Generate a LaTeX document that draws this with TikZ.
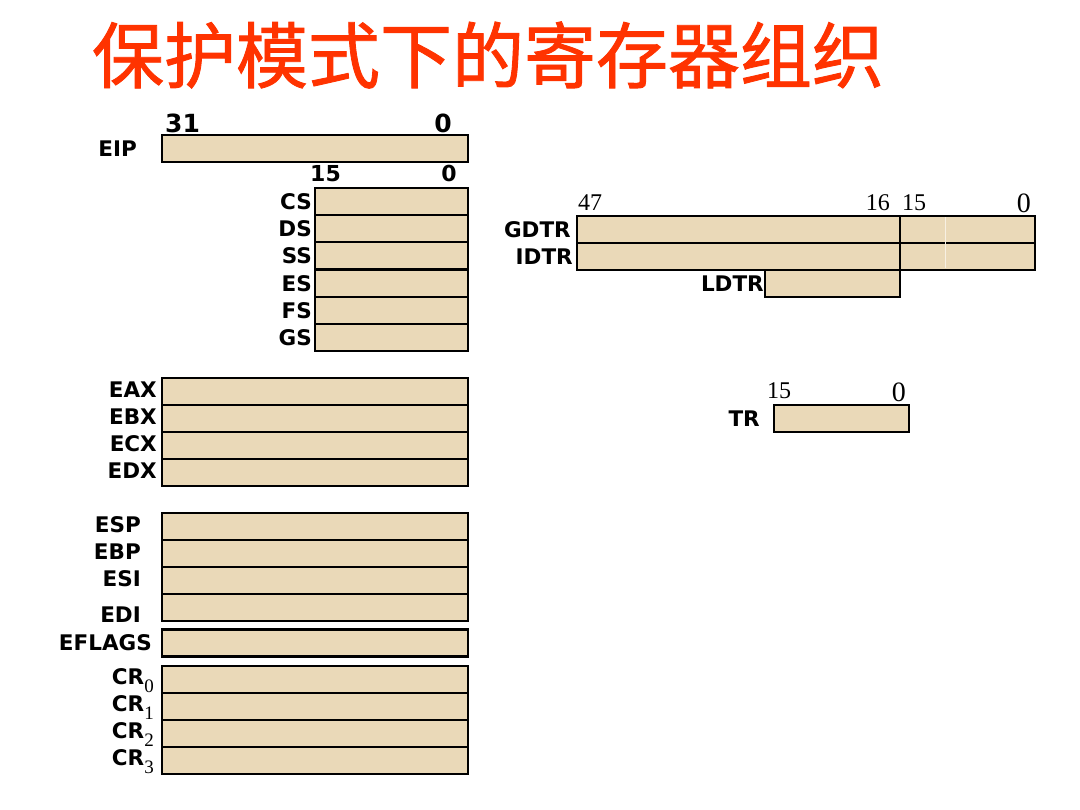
\documentclass[tikz,border=0pt]{standalone}
\usepackage{fontspec}
\setmainfont{DejaVu Sans}
\newfontfamily\cjk{Noto Sans CJK SC}[FakeBold=1.2]
\newfontfamily\numserif{Liberation Serif}
\definecolor{parch}{RGB}{234,217,184}
\definecolor{titlered}{RGB}{255,51,0}
\tikzset{
  reg/.style={draw=black, fill=parch, line width=2.2pt, inner sep=0pt, outer sep=0pt, anchor=north west},
  lbl/.style={font=\fontsize{21.5}{24}\selectfont\bfseries, inner sep=0pt, anchor=east},
  bnum/.style={font=\fontsize{25}{26}\selectfont\bfseries, inner sep=0pt},
  bnums/.style={font=\fontsize{22}{24}\selectfont\bfseries, inner sep=0pt},
  snum/.style={font=\numserif\fontsize{24}{26}\selectfont, inner sep=0pt},
  snumb/.style={font=\numserif\fontsize{28}{30}\selectfont, inner sep=0pt},
  seam/.style={white!60!parch, line width=1pt}
}
\newcommand\regbox[5]{\node[reg, minimum width=#4-#2, minimum height=#5-#3] (#1) at (#2,#3) {};}
\newcommand\crsub[1]{CR\raisebox{-0.35em}{\numserif\mdseries\fontsize{19}{19}\selectfont #1}}
\begin{document}
\begin{tikzpicture}[x=1pt,y=-1pt]
\useasboundingbox (0,0) rectangle (1080,810);
% title
\node[font=\cjk\fontsize{72}{72}\selectfont, text=titlered, inner sep=0pt] (title) at (488,55) {保护模式下的寄存器组织};

% EIP
\regbox{eip}{162}{135}{468}{162}
\node[lbl] (leip) at ([xshift=-25pt]eip.west) {EIP};
\node[bnum, anchor=base west] (b31) at (165,133) {31};
\node[bnum, anchor=base east] (b0a) at (452,133) {0};

% segment registers
\regbox{cs}{315}{188}{468}{215.2}
\regbox{ds}{315}{215.2}{468}{242.4}
\regbox{ss}{315}{242.4}{468}{269.6}
\regbox{es}{315}{269.6}{468}{296.8}
\regbox{fs}{315}{296.8}{468}{324}
\regbox{gs}{315}{324}{468}{351}
\node[bnums, anchor=base west] (b15) at (310,182) {15};
\node[bnums, anchor=base east] (b0b) at (457,182) {0};
\node[lbl] (lcs) at ([xshift=-3pt]cs.west) {CS};
\node[lbl] (lds) at ([xshift=-3pt]ds.west) {DS};
\node[lbl] (lss) at ([xshift=-3pt]ss.west) {SS};
\node[lbl] (les) at ([xshift=-3pt]es.west) {ES};
\node[lbl] (lfs) at ([xshift=-3pt]fs.west) {FS};
\node[lbl] (lgs) at ([xshift=-3pt]gs.west) {GS};

% general registers
\regbox{eax}{162}{378}{468}{405}
\regbox{ebx}{162}{405}{468}{432}
\regbox{ecx}{162}{432}{468}{459}
\regbox{edx}{162}{459}{468}{486}
\node[lbl] (leax) at ([xshift=-5pt,yshift=2pt]eax.west) {EAX};
\node[lbl] (lebx) at ([xshift=-5pt,yshift=2pt]ebx.west) {EBX};
\node[lbl] (lecx) at ([xshift=-5pt,yshift=2pt]ecx.west) {ECX};
\node[lbl] (ledx) at ([xshift=-5pt,yshift=2pt]edx.west) {EDX};

\regbox{esp}{162}{513}{468}{540}
\regbox{ebp}{162}{540}{468}{567}
\regbox{esi}{162}{567}{468}{594}
\regbox{edi}{162}{594}{468}{621}
\node[lbl] (lesp) at ([xshift=-21pt,yshift=2pt]esp.west) {ESP};
\node[lbl] (lebp) at ([xshift=-21pt,yshift=2pt]ebp.west) {EBP};
\node[lbl] (lesi) at ([xshift=-21pt,yshift=2pt]esi.west) {ESI};
\node[lbl] (ledi) at ([xshift=-21pt,yshift=-7pt]edi.west) {EDI};

\regbox{eflags}{162}{629.5}{468}{656.5}
\node[lbl] (leflags) at ([xshift=-10pt]eflags.west) {EFLAGS};

\regbox{cr0}{162}{666}{468}{693}
\regbox{cr1}{162}{693}{468}{720}
\regbox{cr2}{162}{720}{468}{747}
\regbox{cr3}{162}{747}{468}{774}
\node[lbl] (lcr0) at ([xshift=-8pt,yshift=-1pt]cr0.west) {\crsub{0}};
\node[lbl] (lcr1) at ([xshift=-8pt,yshift=-1pt]cr1.west) {\crsub{1}};
\node[lbl] (lcr2) at ([xshift=-8pt,yshift=-1pt]cr2.west) {\crsub{2}};
\node[lbl] (lcr3) at ([xshift=-8pt,yshift=-1pt]cr3.west) {\crsub{3}};

% descriptor table registers
\regbox{gdtrb}{577}{216}{900}{243}
\regbox{gdtrl}{900}{216}{1035}{243}
\regbox{idtrb}{577}{243}{900}{270}
\regbox{idtrl}{900}{243}{1035}{270}
\draw[seam] (945,217.5) -- (945,268.5);
\regbox{ldtr}{765}{270}{900}{297}
\node[lbl] (lgdtr) at ([xshift=-6pt]gdtrb.west) {GDTR};
\node[lbl] (lidtr) at ([xshift=-4pt]idtrb.west) {IDTR};
\node[lbl] (lldtr) at ([xshift=-1pt]ldtr.west) {LDTR};
\node[snum, anchor=base west] (n47) at (578,211) {47};
\node[snum, anchor=base east] (n16) at (890,211) {16};
\node[snum, anchor=base west] (n15) at (902,211) {15};
\node[snumb, anchor=base east] (n0) at (1031,213) {0};

% task register
\regbox{tr}{774}{405}{909}{432}
\node[lbl] (ltr) at ([xshift=-14pt]tr.west) {TR};
\node[snum, anchor=base west] (t15) at (767,399) {15};
\node[snumb, anchor=base east] (t0) at (906,402) {0};
\end{tikzpicture}
\end{document}
